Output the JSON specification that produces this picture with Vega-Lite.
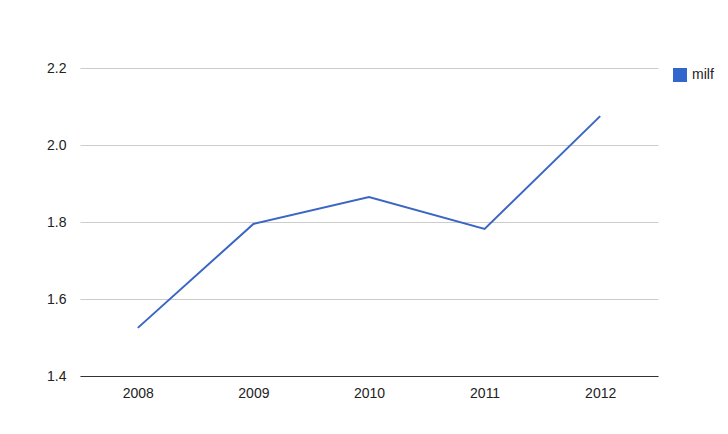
{
  "$schema": "https://vega.github.io/schema/vega-lite/v6.json",
  "width": 578,
  "height": 308,
  "autosize": {"type": "none"},
  "padding": {"left": 80, "top": 68, "right": 70, "bottom": 58},
  "background": "white",
  "config": {
    "view": {"stroke": null},
    "font": "Liberation Sans"
  },
  "data": {
    "values": [
      {"year": "2008", "value": 1.525, "series": "milf"},
      {"year": "2009", "value": 1.795, "series": "milf"},
      {"year": "2010", "value": 1.865, "series": "milf"},
      {"year": "2011", "value": 1.782, "series": "milf"},
      {"year": "2012", "value": 2.075, "series": "milf"}
    ]
  },
  "mark": {"type": "line", "strokeWidth": 2},
  "encoding": {
    "x": {
      "field": "year",
      "type": "ordinal",
      "scale": {"paddingInner": 0, "paddingOuter": 0.5},
      "axis": {
        "title": null,
        "labelAngle": 0,
        "ticks": false,
        "domainColor": "#333333",
        "domainWidth": 1,
        "labelFontSize": 14,
        "labelColor": "#222222",
        "labelPadding": 10,
        "grid": false
      }
    },
    "y": {
      "field": "value",
      "type": "quantitative",
      "scale": {"domain": [1.4, 2.2], "nice": false, "zero": false},
      "axis": {
        "title": null,
        "values": [1.4, 1.6, 1.8, 2.0, 2.2],
        "format": ".1f",
        "ticks": false,
        "domain": false,
        "gridColor": "#cccccc",
        "labelFontSize": 14,
        "labelColor": "#222222",
        "labelPadding": 14
      }
    },
    "color": {
      "field": "series",
      "type": "nominal",
      "scale": {"range": ["#3a66c4"]},
      "legend": {
        "title": null,
        "orient": "none",
        "legendX": 593,
        "legendY": 0,
        "symbolType": "square",
        "symbolSize": 196,
        "symbolFillColor": "#3366cc",
        "symbolStrokeWidth": 0,
        "labelFontSize": 14,
        "labelColor": "#222222",
        "labelOffset": 5
      }
    }
  }
}
